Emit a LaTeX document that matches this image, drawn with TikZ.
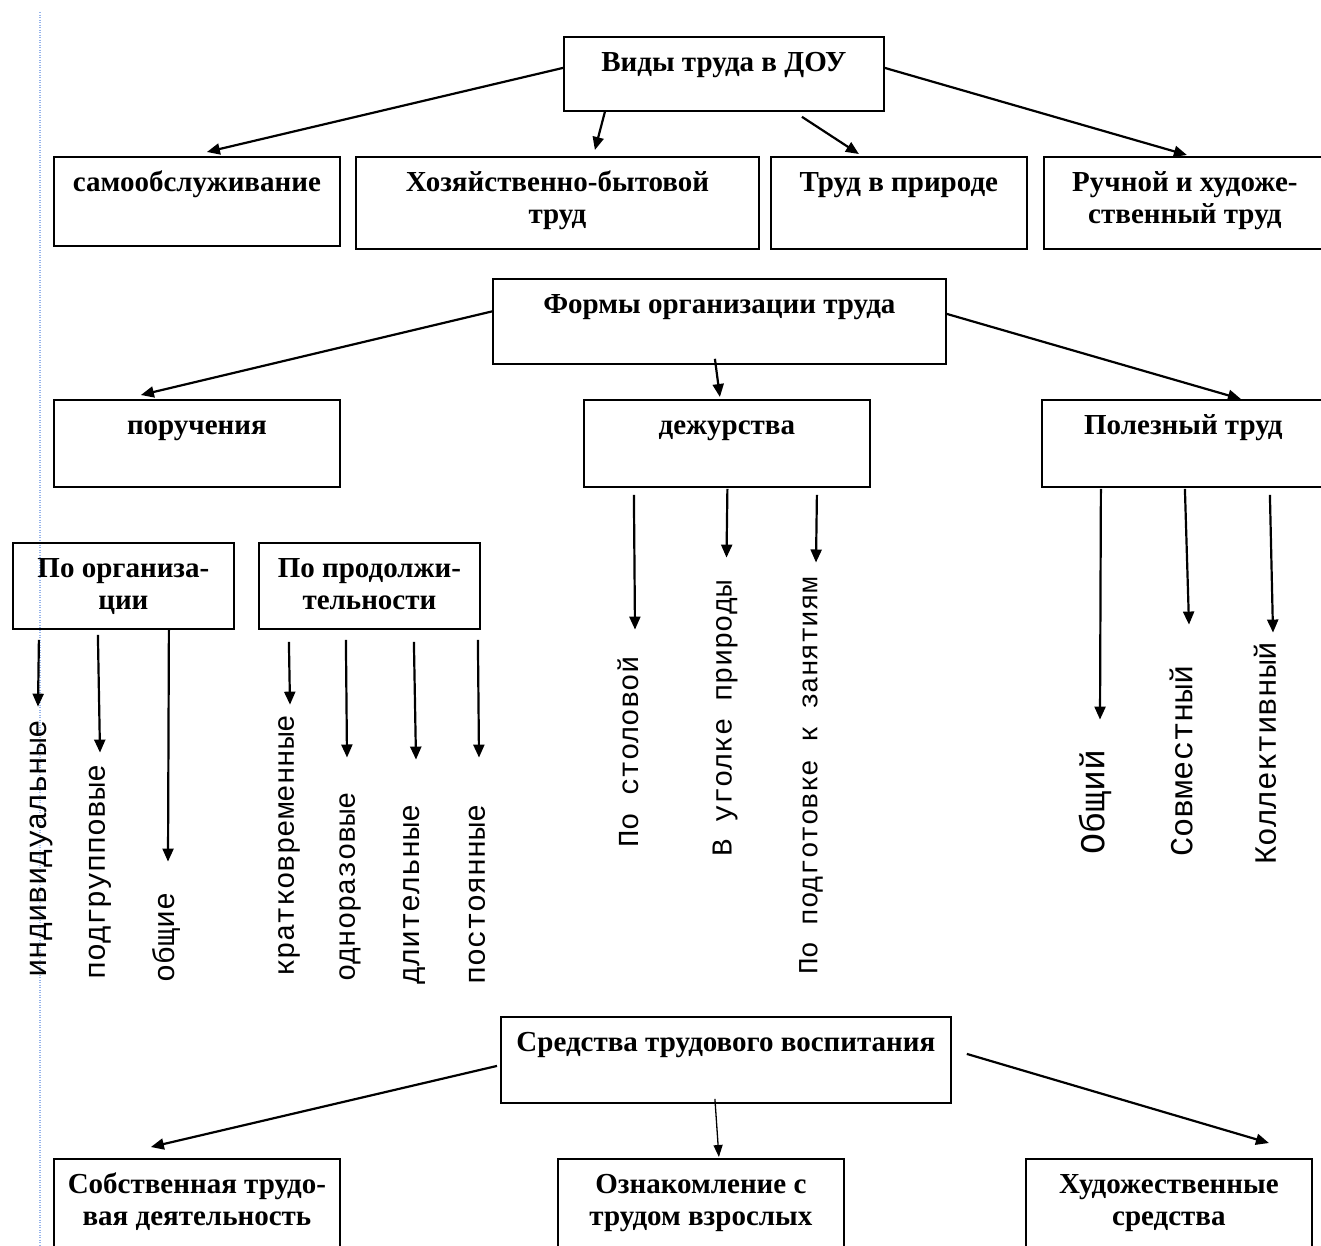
\documentclass[tikz,border=0pt]{standalone}
\usepackage{fontspec}
\setmainfont{Liberation Serif}
\newfontfamily\monof{Liberation Mono}
\usetikzlibrary{arrows.meta,calc}
\definecolor{guideblue}{RGB}{150,180,235}
\newcommand\bx[6]{%
  \node[box, minimum width=#4pt, minimum height=#5pt] (#1) at (#2,#3) {};
  \node[btxt] (#1t) at ([yshift=-14pt]#1.north) {\rule{0pt}{21pt}#6};}
\begin{document}
\begin{tikzpicture}[x=1pt,y=-1pt,
  box/.style={draw, line width=1.8pt, inner sep=0pt, anchor=north west},
  btxt/.style={anchor=north, inner sep=0pt, align=center,
    font=\bfseries\fontsize{29}{32}\selectfont},
  arr/.style={line width=2.2pt, -{Triangle[length=13pt,width=11pt]}},
  thinarr/.style={line width=1.3pt, -{Triangle[length=12pt,width=9pt]}},
  vlab/.style={rotate=90, anchor=west, inner sep=0pt,
    font=\monof\fontsize{#1}{#1}\selectfont},
]
\useasboundingbox (0,0) rectangle (1321,1245);

% guide line
\draw[guideblue, line width=1.2pt, dash pattern=on 1pt off 1.5pt] (40,12) -- (40,1245);

% ---- boxes ----
\bx{vid}{563}{36}{320}{74}{Виды труда в ДОУ}
\bx{samo}{53}{156}{286}{89}{самообслуживание}
\bx{hoz}{355}{156}{403}{92}{Хозяйственно-бытовой\\труд}
\bx{pri}{770}{156}{256}{92}{Труд в природе}
\bx{ruch}{1043}{156}{282}{92}{Ручной и художе-\\ственный труд}
\bx{form}{492}{278}{453}{85}{Формы организации труда}
\bx{por}{53}{399}{286}{87}{поручения}
\bx{duty}{583}{399}{286}{87}{дежурства}
\bx{pol}{1041}{399}{283}{87}{Полезный труд}
\bx{org}{12}{542}{221}{86}{По организа-\\ции}
\bx{prod}{258}{542}{221}{86}{По продолжи-\\тельности}
\bx{sred}{500}{1016}{450}{86}{Средства трудового воспитания}
\bx{sobs}{53}{1158}{286}{110}{Собственная трудо-\\вая деятельность}
\bx{ozn}{557}{1158}{286}{110}{Ознакомление с\\трудом взрослых}
\bx{hud}{1025}{1158}{286}{110}{Художественные\\средства}

% ---- vertical labels ----
\node[vlab=30.7] (ind)   at (41,978)   {индивидуальные};
\node[vlab=29.9] (podg)  at (100,980)  {подгрупповые};
\node[vlab=30]   (obsh)  at (166,983)  {общие};
\node[vlab=29.1] (krat)  at (289,977)  {кратковременные};
\node[vlab=28.8] (odno)  at (350,982)  {одноразовые};
\node[vlab=30]   (dlit)  at (414,985)  {длительные};
\node[vlab=30]   (post)  at (477,985)  {постоянные};
\node[vlab=29]   (stol)  at (628,848)  {По столовой};
\node[vlab=28.8] (ugol)  at (725,857)  {В уголке природы};
\node[vlab=27.6] (podt)  at (811,975)  {По подготовке к занятиям};
\node[vlab=35]   (obsch) at (1095,855) {Общий};
\node[vlab=32]   (sovm)  at (1181,857) {Совместный};
\node[vlab=31]   (koll)  at (1265,865) {Коллективный};

% ---- connectors: top ----
\draw[arr] ([yshift=6pt]vid.west) -- ([xshift=10pt,yshift=4pt]samo.north);
\draw[arr] ([xshift=-119pt]vid.south) -- ([xshift=37.5pt,yshift=6pt]hoz.north);
\draw[arr] ([xshift=78pt,yshift=-5pt]vid.south) -- ([xshift=-40pt,yshift=2pt]pri.north);
\draw[arr] ([yshift=6pt]vid.east) -- ([xshift=2pt,yshift=1pt]ruch.north);

% ---- forms ----
\draw[arr] ([yshift=10pt]form.west) -- ([xshift=-56pt,yshift=4pt]por.north);
\draw[arr] ([xshift=-4.5pt,yshift=6pt]form.south) -- ([xshift=-7pt,yshift=2pt]duty.north);
\draw[arr] ([yshift=7.5pt]form.east) -- ([xshift=57.5pt,yshift=0pt]pol.north);

% ---- po organizatsii ----
\draw[arr] ([xshift=-84.5pt,yshift=-10pt]org.south) -- ([xshift=-3pt,yshift=13pt]ind.east);
\draw[arr] ([xshift=-25.5pt,yshift=-5pt]org.south) -- ([yshift=11.7pt]podg.east);
\draw[arr] ([xshift=45.5pt]org.south) -- ([xshift=2pt,yshift=31pt]obsh.east);

% ---- po prodolzhitelnosti ----
\draw[arr] ([xshift=-80.5pt,yshift=-12pt]prod.south) -- ([xshift=1pt,yshift=10pt]krat.east);
\draw[arr] ([xshift=-23.5pt,yshift=-10pt]prod.south) -- ([xshift=-3pt,yshift=34pt]odno.east);
\draw[arr] ([xshift=44.5pt,yshift=-12pt]prod.south) -- ([xshift=2pt,yshift=45pt]dlit.east);
\draw[arr] ([xshift=108.5pt,yshift=-10pt]prod.south) -- ([xshift=2pt,yshift=47pt]post.east);

% ---- dezhurstva ----
\draw[arr] ([xshift=-93pt,yshift=-7pt]duty.south) -- ([xshift=7pt,yshift=26.6pt]stol.east);
\draw[arr] ([xshift=0.5pt,yshift=-1pt]duty.south) -- ([xshift=1.5pt,yshift=22.5pt]ugol.east);
\draw[arr] ([xshift=90pt,yshift=-7pt]duty.south) -- ([xshift=5pt,yshift=14.6pt]podt.east);

% ---- poleznyi trud ----
\draw[arr] ([xshift=-82.5pt,yshift=-1pt]pol.south) -- ([xshift=5pt,yshift=30pt]obsch.east);
\draw[arr] ([xshift=1.5pt,yshift=-1pt]pol.south) -- ([xshift=8pt,yshift=40pt]sovm.east);
\draw[arr] ([xshift=86.5pt,yshift=-7pt]pol.south) -- ([xshift=8pt,yshift=8.8pt]koll.east);

% ---- sredstva ----
\draw[arr] ([xshift=-3pt,yshift=-6pt]sred.west) -- ([xshift=-46pt,yshift=11pt]sobs.north);
\draw[thinarr] ([xshift=-11pt,yshift=5pt]sred.south) -- ([xshift=18pt,yshift=1pt]ozn.north);
\draw[arr] ([xshift=15pt,yshift=6pt]sred.east) -- ([xshift=100pt,yshift=15pt]hud.north);
\end{tikzpicture}
\end{document}
